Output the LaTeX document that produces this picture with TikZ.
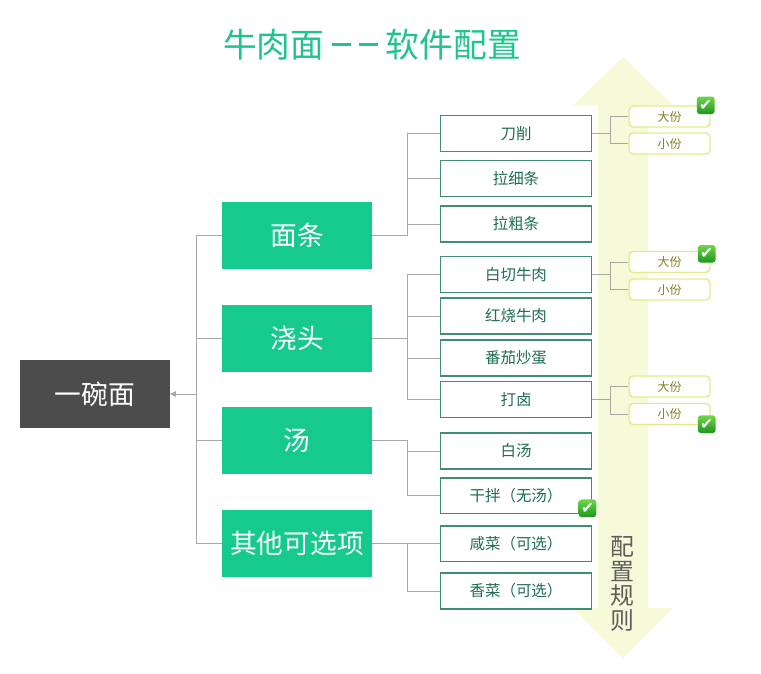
\documentclass[tikz,border=0pt]{standalone}
\usepackage{fontspec}
\setmainfont{Noto Sans CJK SC}
\newfontfamily\symfont{DejaVu Sans}
\usetikzlibrary{arrows.meta, positioning}
\definecolor{mint}{RGB}{22,201,140}
\definecolor{titlegreen}{RGB}{30,196,138}
\definecolor{rootgray}{RGB}{76,76,76}
\definecolor{itemline}{RGB}{66,140,118}
\definecolor{itemtext}{RGB}{30,108,84}
\definecolor{optline}{RGB}{226,234,140}
\definecolor{opttext}{RGB}{132,126,34}
\definecolor{ruleband}{RGB}{246,250,216}
\definecolor{chktop}{RGB}{112,214,72}
\definecolor{chkbot}{RGB}{28,150,30}
\definecolor{linkgray}{RGB}{168,168,168}
\newcommand{\longdash}{\rule[0.36em]{0.58em}{0.07em}}

\begin{document}
\begin{tikzpicture}[
        root/.style={fill=rootgray, text=white, minimum width=3.75cm, minimum height=1.7cm, inner sep=0pt, font=\fontsize{19}{19}\selectfont},
        cat/.style={fill=mint, text=white, minimum width=3.75cm, minimum height=1.675cm, inner sep=0pt, font=\fontsize{19}{19}\selectfont},
        item/.style={fill=white, text=itemtext, minimum width=3.76cm, minimum height=0.875cm, inner sep=0pt, font=\fontsize{11}{11}\selectfont},
        frame/.style={draw=itemline, line width=1.1pt},
        opt/.style={draw=optline, line width=1pt, fill=white, rounded corners=3pt, text=opttext, minimum width=2.025cm, minimum height=0.525cm, inner sep=0pt, font=\fontsize{8.5}{8.5}\selectfont},
        chk/.style={top color=chktop, bottom color=chkbot, rounded corners=2pt, minimum size=0.44cm, inner sep=0pt, text=white, font=\symfont\fontsize{11}{11}\selectfont},
        link/.style={draw=linkgray, thin}]
        \useasboundingbox (0,0) rectangle (19.025,-16.825);
        % rule band (double arrow)
        \fill[ruleband] (15.575,-1.425) -- (16.825,-2.625) -- (16.2,-2.625) -- (16.2,-15.2)
            -- (16.825,-15.2) -- (15.575,-16.45) -- (14.325,-15.2) -- (14.95,-15.2)
            -- (14.95,-2.625) -- (14.325,-2.625) -- cycle;
        \node[text=rootgray!90, align=center, font=\fontsize{17}{17.6}\selectfont] (rule) at (15.55,-14.6) {配\\置\\规\\则};
        % title
        \node[text=titlegreen, font=\fontsize{24}{24}\selectfont] (title) at (9.3,-1.125) {牛肉面 \longdash\hspace{0.22em}\longdash{} 软件配置};
        % root
        \node[root] (bowl) at (2.375,-9.85) {一碗面};
        % categories
        \node[cat] (noodle) at (7.425,-5.8875) {面条};
        \node[cat] (topping) at (7.425,-8.45) {浇头};
        \node[cat] (soup) at (7.425,-11.0125) {汤};
        \node[cat] (extra) at (7.425,-13.5875) {其他可选项};
        % noodle items
        \node[item] (d1) at (12.9,-3.3375) {刀削};
        \node[item] (d2) at (12.9,-4.4625) {拉细条};
        \node[item] (d3) at (12.9,-5.6) {拉粗条};
        % topping items
        \node[item] (t1) at (12.9,-6.8625) {白切牛肉};
        \node[item] (t2) at (12.9,-7.9) {红烧牛肉};
        \node[item] (t3) at (12.9,-8.95) {番茄炒蛋};
        \node[item] (t4) at (12.9,-9.9875) {打卤};
        % soup items
        \node[item] (s1) at (12.9,-11.275) {白汤};
        \node[item] (s2) at (12.9,-12.3875) {干拌（无汤）};
        % extra items
        \node[item] (e1) at (12.9,-13.5875) {咸菜（可选）};
        \node[item] (e2) at (12.9,-14.775) {香菜（可选）};
        % portions
        \node[opt] (d1a) at (16.7375,-2.9125) {大份};
        \node[opt] (d1b) at (16.7375,-3.5875) {小份};
        \node[opt] (t1a) at (16.7375,-6.55) {大份};
        \node[opt] (t1b) at (16.7375,-7.2375) {小份};
        \node[opt] (t4a) at (16.7375,-9.6625) {大份};
        \node[opt] (t4b) at (16.7375,-10.35) {小份};
        % links
        \foreach \c in {noodle,topping,soup,extra}
            \draw[link, {Latex[length=4pt,width=4pt]}-] (bowl.east) -- ++(0.65,0) |- (\c.west);
        \foreach \p/\c in {noodle/d1,noodle/d2,noodle/d3,topping/t1,topping/t2,topping/t3,topping/t4,soup/s1,soup/s2,extra/e1,extra/e2}
            \draw[link] (\p.east) -- ++(0.875,0) |- (\c.west);
        \foreach \p/\c in {d1/d1a,d1/d1b,t1/t1a,t1/t1b,t4/t4a,t4/t4b}
            \draw[link] (\p.east) -- ++(0.46,0) |- (\c.west);
        % item frames
        \foreach \n in {d1,d2,d3,t1,t2,t3,t4,s1,s2,e1,e2}
            \draw[frame] (\n.north west) rectangle (\n.south east);
        % chosen
        \node[chk] (k1) at ([xshift=-0.125cm]d1a.north east) {✔};
        \node[chk] (k2) at ([shift={(-0.1,-0.075)}]t1a.north east) {✔};
        \node[chk] (k3) at ([shift={(-0.1,0.025)}]t4b.south east) {✔};
        \node[chk] (k4) at ([shift={(-0.1,0.125)}]s2.south east) {✔};
    \end{tikzpicture}
\end{document}
